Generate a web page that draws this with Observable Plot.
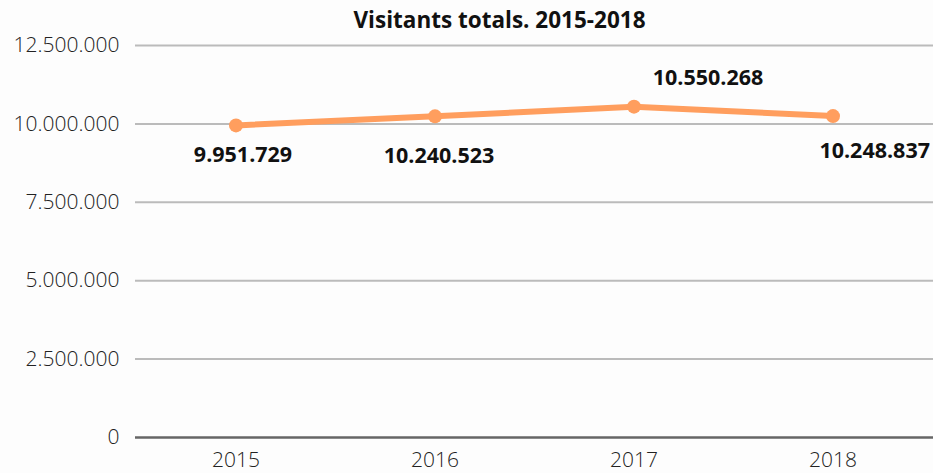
<!DOCTYPE html>
<html><head><meta charset="utf-8">
<script src="https://cdn.jsdelivr.net/npm/d3@7"></script>
<script src="https://cdn.jsdelivr.net/npm/@observablehq/plot@0.6"></script>
<style>
body{margin:0;background:#fdfdfd;font-family:"Open Sans",sans-serif;}
svg{display:block}
</style></head><body><div id="chart"></div>
<script>
const years = ["2015","2016","2017","2018"];
const visitors = [9951729, 10240523, 10550268, 10248837];
const yTicks = [0, 2500000, 5000000, 7500000, 10000000, 12500000];
const title = "Visitants totals. 2015-2018";

const data = years.map((y, i) => ({year: y, value: visitors[i]}));
const fmt = d => d3.format(",")(d).replace(/,/g, ".");

// label placement per point (dx, dy, anchor) kept in code
const labelPlacement = [[7, 30, "middle"], [4, 40, "middle"], [74, -29, "middle"], [97, 35, "end"]];

const chart = Plot.plot({
  width: 933, height: 473,
  marginLeft: 135, marginRight: 0, marginTop: 45, marginBottom: 36,
  style: {background: "#fdfdfd", fontFamily: "Open Sans, sans-serif"},
  x: {type: "band", domain: years, padding: 0, label: null, tickSize: 0, tickPadding: 14},
  y: {domain: [0, 12500000], ticks: yTicks, label: null, tickSize: 0, tickPadding: 16, tickFormat: fmt},
  marks: [
    Plot.gridY(yTicks.filter(d => d > 0), {stroke: "#bbbbbb", strokeOpacity: 1, strokeWidth: 2}),
    Plot.ruleY([0], {stroke: "#666666", strokeWidth: 2.5}),
    Plot.axisX({tickSize: 0, tickPadding: 15, fontSize: 21, fontWeight: 300, fill: "#222"}),
    Plot.axisY({ticks: yTicks, tickFormat: fmt, tickSize: 0, tickPadding: 16, fontSize: 21, fontWeight: 300, fill: "#222"}),
    Plot.line(data, {x: "year", y: "value", stroke: "#ff9e5e", strokeWidth: 6}),
    Plot.dot(data, {x: "year", y: "value", fill: "#ff9e5e", r: 7}),
    ...data.map((d, i) => Plot.text([d], {x: "year", y: "value", text: d => fmt(d.value),
      dx: labelPlacement[i][0], dy: labelPlacement[i][1], textAnchor: labelPlacement[i][2],
      fontSize: 21.5, fontWeight: "bold", fill: "#111"})),
    Plot.text([title], {frameAnchor: "top", dx: -35, dy: -33, fontSize: 22.5, fontWeight: "bold", fill: "#111"})
  ]
});
document.getElementById("chart").appendChild(chart);
</script></body></html>
